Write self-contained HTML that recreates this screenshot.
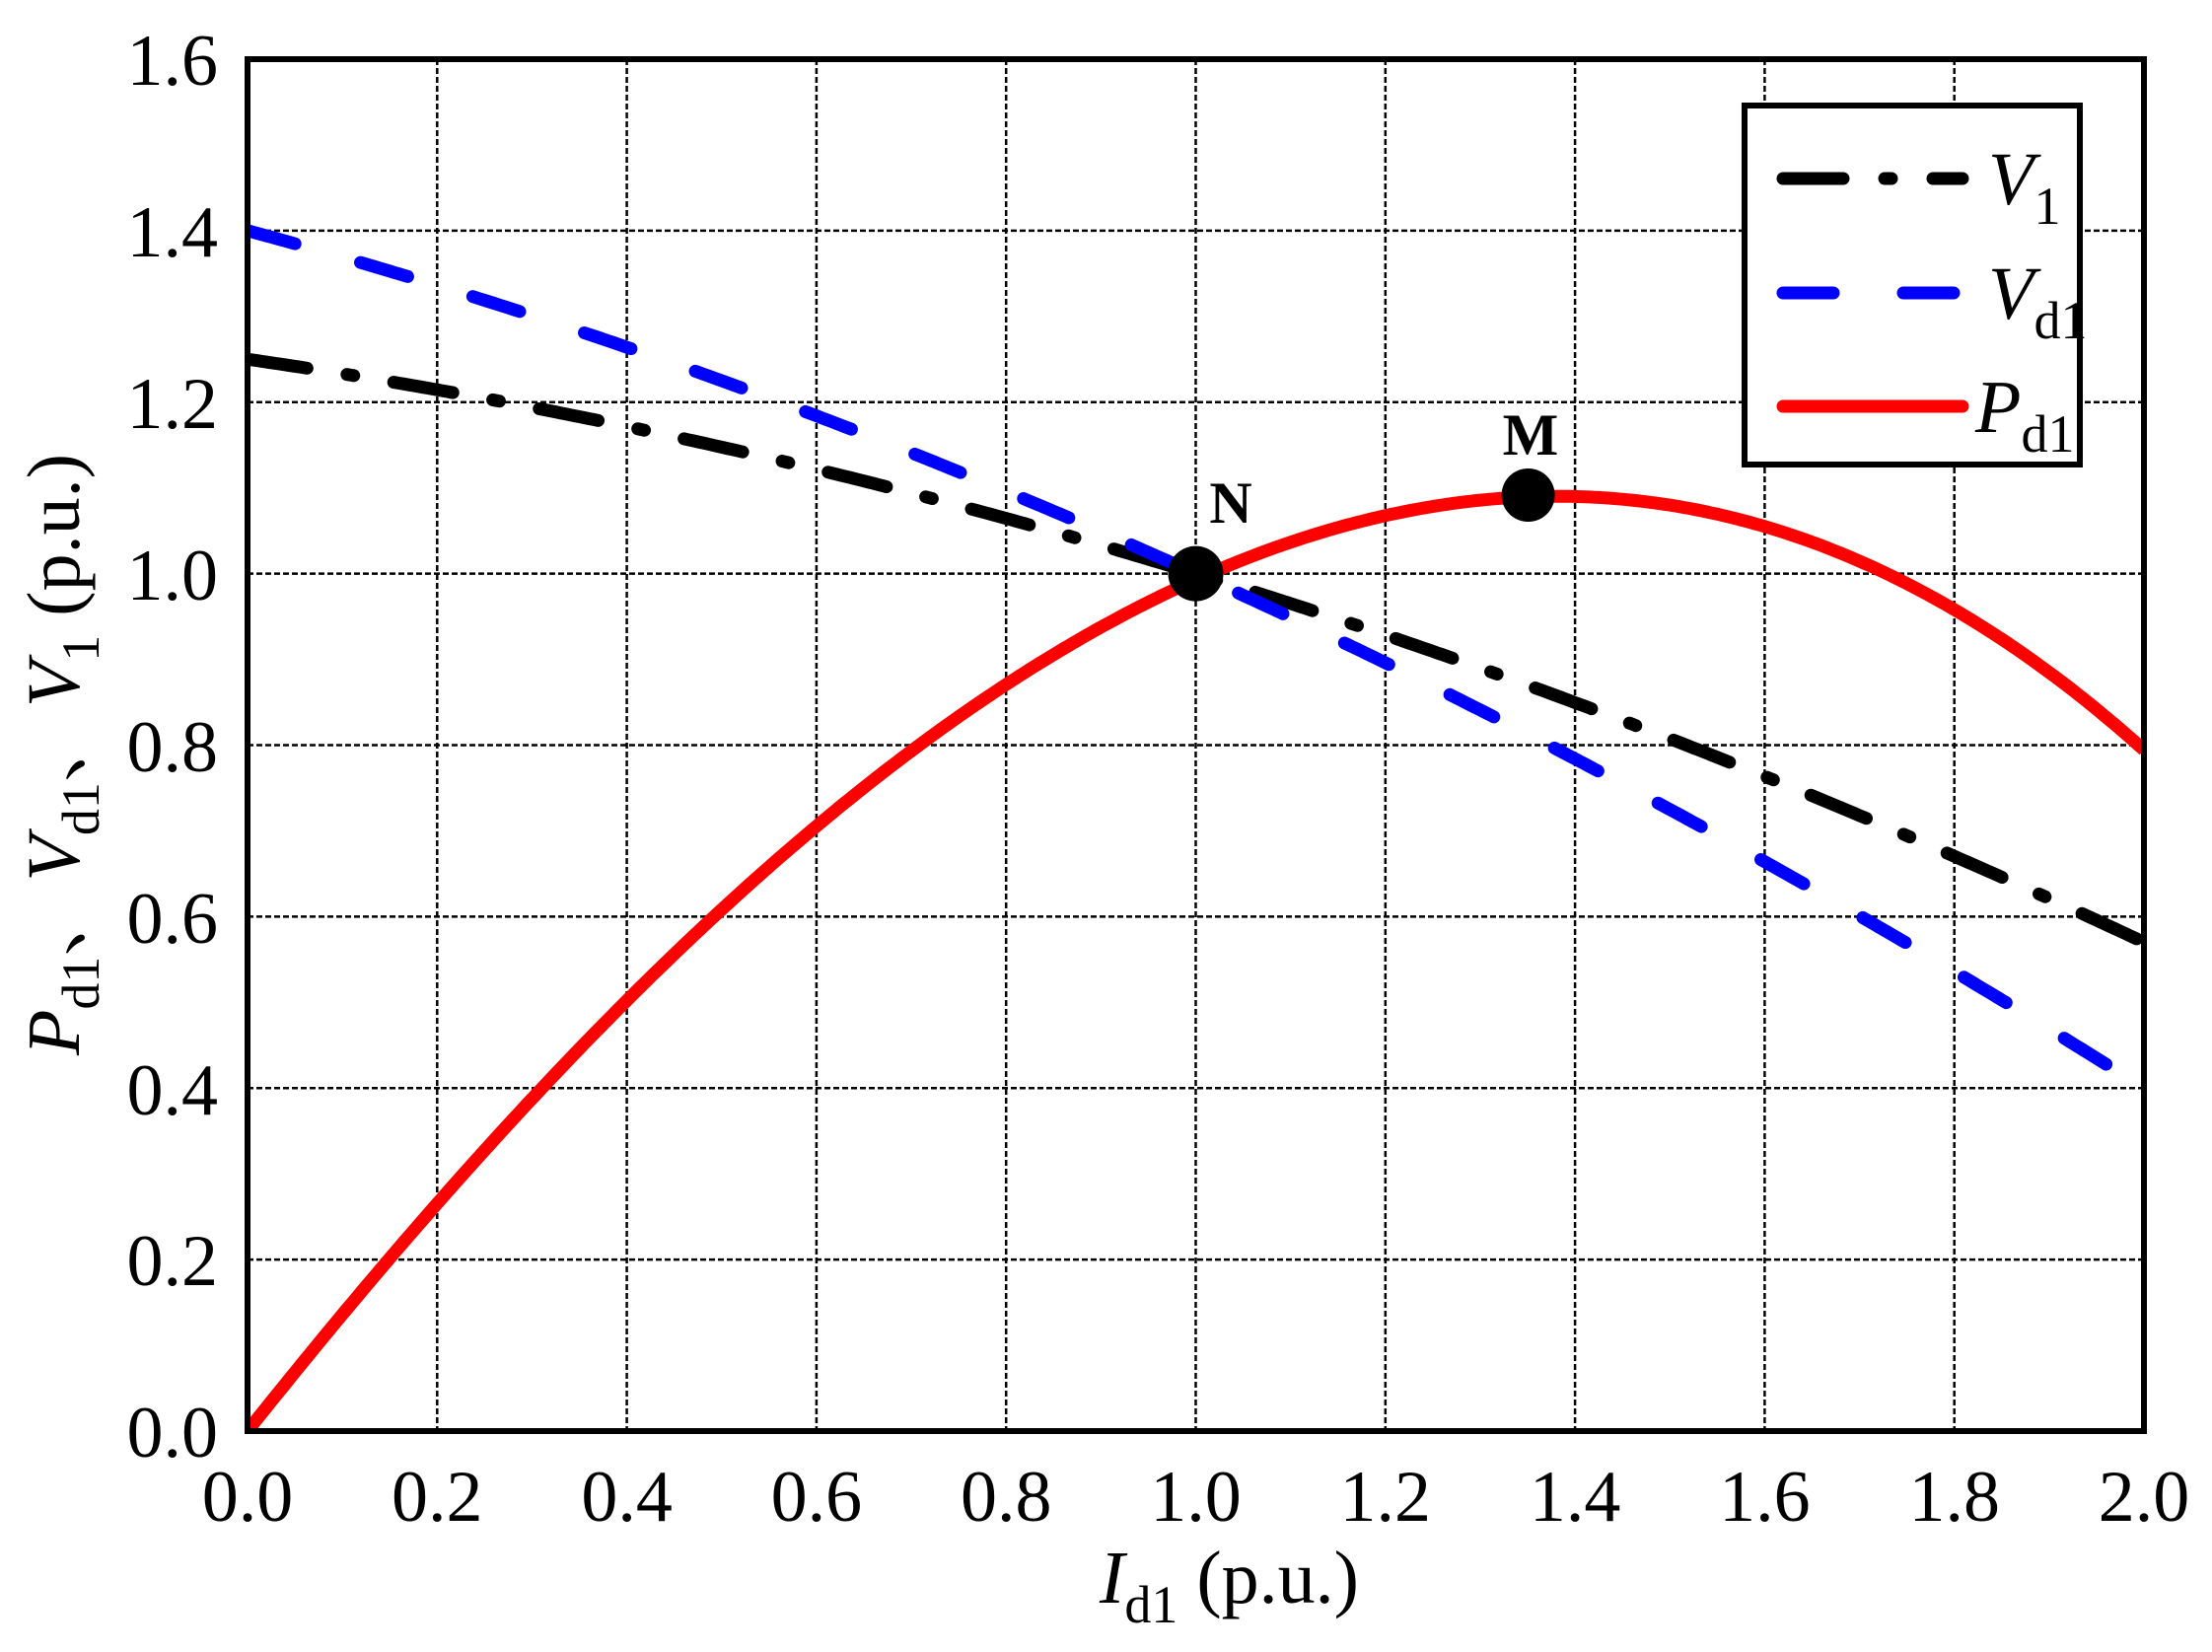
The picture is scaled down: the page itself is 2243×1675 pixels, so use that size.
<!DOCTYPE html>
<html><head><meta charset="utf-8"><style>
html,body{margin:0;padding:0;background:#fff;}
svg{display:block;}
text{font-family:"Liberation Serif","Times New Roman",serif;}
.cjk{font-family:"Noto Serif CJK SC","Noto Sans CJK SC",serif;}
</style></head><body>
<svg width="2243" height="1675" viewBox="0 0 2243 1675" xmlns="http://www.w3.org/2000/svg">
<rect width="2243" height="1675" fill="#fff"/>
<g stroke="#000" stroke-width="2.5" stroke-dasharray="6 3" fill="none">
<line x1="443.3" y1="60" x2="443.3" y2="1451"/>
<line x1="635.6" y1="60" x2="635.6" y2="1451"/>
<line x1="827.9" y1="60" x2="827.9" y2="1451"/>
<line x1="1020.2" y1="60" x2="1020.2" y2="1451"/>
<line x1="1212.5" y1="60" x2="1212.5" y2="1451"/>
<line x1="1404.8" y1="60" x2="1404.8" y2="1451"/>
<line x1="1597.1" y1="60" x2="1597.1" y2="1451"/>
<line x1="1789.4" y1="60" x2="1789.4" y2="1451"/>
<line x1="1981.7" y1="60" x2="1981.7" y2="1451"/>
<line x1="251" y1="233.9" x2="2174" y2="233.9"/>
<line x1="251" y1="407.8" x2="2174" y2="407.8"/>
<line x1="251" y1="581.6" x2="2174" y2="581.6"/>
<line x1="251" y1="755.5" x2="2174" y2="755.5"/>
<line x1="251" y1="929.4" x2="2174" y2="929.4"/>
<line x1="251" y1="1103.3" x2="2174" y2="1103.3"/>
<line x1="251" y1="1277.1" x2="2174" y2="1277.1"/>
</g>
<defs><clipPath id="c"><rect x="251" y="60" width="1923" height="1391"/></clipPath></defs>
<g clip-path="url(#c)" fill="none" stroke-width="13" stroke-linecap="round">
<polyline id="v1" stroke="#000" stroke-dasharray="61 41 7 41" points=""/>
<polyline id="vd" stroke="#0000ff" stroke-dasharray="50 69" points=""/>
<polyline id="pd" stroke="#ff0000" stroke-linecap="butt" points=""/>
</g>
<rect x="251" y="60" width="1923" height="1391" fill="none" stroke="#000" stroke-width="6"/>
<circle cx="1212.5" cy="581.6" r="28" fill="#000"/>
<circle cx="1549.6" cy="502" r="27" fill="#000"/>
<text x="1248" y="530" font-size="60" font-weight="bold" text-anchor="middle">N</text>
<text x="1552" y="461" font-size="60" font-weight="bold" text-anchor="middle">M</text>
<rect x="1769" y="107" width="340" height="364" fill="#fff" stroke="#000" stroke-width="6"/>
<g fill="none" stroke-width="13" stroke-linecap="round">
<line x1="1808" y1="181" x2="1990" y2="181" stroke="#000" stroke-dasharray="61 42 7 42"/>
<line x1="1808" y1="297" x2="1990" y2="297" stroke="#0000ff" stroke-dasharray="51 71"/>
<line x1="1808" y1="412" x2="1990" y2="412" stroke="#ff0000"/>
</g>
<g font-size="76">
<text x="2016" y="207" font-style="italic">V<tspan font-style="normal" font-size="54" dy="20">1</tspan></text>
<text x="2016" y="323" font-style="italic">V<tspan font-style="normal" font-size="54" dy="20">d1</tspan></text>
<text x="2003" y="438" font-style="italic">P<tspan font-style="normal" font-size="54" dy="20">d1</tspan></text>
</g>
<g font-size="74" text-anchor="end">
<text x="221" y="86">1.6</text>
<text x="221" y="260">1.4</text>
<text x="221" y="434">1.2</text>
<text x="221" y="608">1.0</text>
<text x="221" y="782">0.8</text>
<text x="221" y="956">0.6</text>
<text x="221" y="1130">0.4</text>
<text x="221" y="1303">0.2</text>
<text x="221" y="1477">0.0</text>
</g>
<g font-size="74" text-anchor="middle">
<text x="251" y="1542">0.0</text>
<text x="443.3" y="1542">0.2</text>
<text x="635.6" y="1542">0.4</text>
<text x="827.9" y="1542">0.6</text>
<text x="1020.2" y="1542">0.8</text>
<text x="1212.5" y="1542">1.0</text>
<text x="1404.8" y="1542">1.2</text>
<text x="1597.1" y="1542">1.4</text>
<text x="1789.4" y="1542">1.6</text>
<text x="1981.7" y="1542">1.8</text>
<text x="2174" y="1542">2.0</text>
</g>
<text x="1115" y="1625" font-size="76"><tspan font-style="italic">I</tspan><tspan font-size="54" dy="20">d1</tspan><tspan dy="-20"> (p.u.)</tspan></text>
<text transform="translate(80,1070) rotate(-90)" font-size="76"><tspan font-style="italic">P</tspan><tspan font-size="54" dy="20">d1</tspan><tspan dy="-20" class="cjk">、</tspan><tspan font-style="italic">V</tspan><tspan font-size="54" dy="20">d1</tspan><tspan dy="-20" class="cjk">、</tspan><tspan font-style="italic">V</tspan><tspan font-size="54" dy="20">1</tspan><tspan dy="-20"> (p.u.)</tspan></text>
<script>
(function(){
function X(x){return 251+x*961.5;}
function Y(y){return 1451-y*869.4;}
var a=[],b=[],c=[];
for(var i=0;i<=400;i++){var x=i/200;
var v1=1.25-0.16*x-0.09*x*x, vd=1.4-0.3*x-0.1*x*x, p=x*vd*0.993;
a.push(X(x).toFixed(1)+','+Y(v1).toFixed(1));
b.push(X(x).toFixed(1)+','+Y(vd).toFixed(1));
c.push(X(x).toFixed(1)+','+Y(p).toFixed(1));}
document.getElementById('v1').setAttribute('points',a.join(' '));
document.getElementById('vd').setAttribute('points',b.join(' '));
document.getElementById('pd').setAttribute('points',c.join(' '));
})();
</script>
</svg>
</body></html>
